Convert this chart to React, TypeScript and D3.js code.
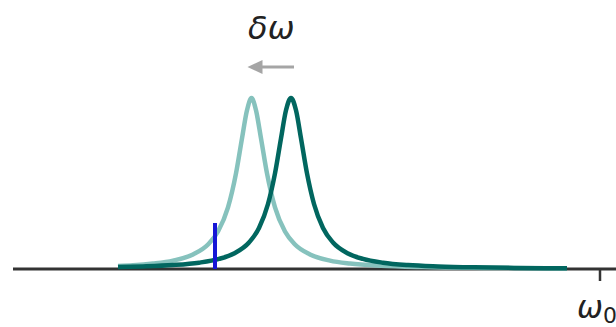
import * as d3 from 'd3';
import React from 'react';

// detuning axis in arbitrary units, omega0 marked by the tick
const omega0 = 58.7;
const markerX = 20.2;
const xDomain = [0, 60.3];

// shifted (light) resonance
const shiftedX = [10.5, 12, 14, 16, 18, 19.5, 20.5, 21.5, 22.3, 22.9, 23.4, 23.85, 24.3, 24.8, 25.4, 26.2, 27.2, 28.2, 29.7, 31.7, 33.7, 36.8, 41, 47, 55.4];
const shiftedY = [0.018, 0.022, 0.032, 0.049, 0.085, 0.143, 0.219, 0.36, 0.559, 0.764, 0.928, 1, 0.928, 0.764, 0.559, 0.36, 0.219, 0.143, 0.085, 0.049, 0.032, 0.019, 0.011, 0.006, 0.0033];

// original (dark) resonance
const baseX = [10.5, 13, 16, 18.6, 20.6, 22.1, 23.6, 24.6, 25.5, 26.2, 26.8, 27.3, 27.8, 28.3, 28.8, 29.4, 30.1, 31, 32, 33.5, 35, 37, 39.5, 42.5, 46.1, 50.1, 55.4];
const baseY = [0.011, 0.015, 0.023, 0.037, 0.059, 0.091, 0.155, 0.24, 0.38, 0.559, 0.764, 0.928, 1, 0.928, 0.764, 0.559, 0.38, 0.24, 0.155, 0.091, 0.059, 0.037, 0.023, 0.015, 0.0096, 0.0065, 0.0042];

const W = 616;
const H = 327;

const App = () => {
  const x = d3.scaleLinear().domain(xDomain).range([13, 616]);
  const y = d3.scaleLinear().domain([0, 1]).range([269, 98]);

  const makePath = (xs: number[], ys: number[]) =>
    d3
      .line<[number, number]>()
      .x((d) => x(d[0]))
      .y((d) => y(d[1]))
      .curve(d3.curveMonotoneX)(xs.map((v, i) => [v, ys[i]] as [number, number])) || '';

  const peakShift = shiftedX[shiftedY.indexOf(1)];
  const peakBase = baseX[baseY.indexOf(1)];
  const arrowY = 67;
  const ax1 = x(peakBase) + 3;
  const ax2 = x(peakShift) - 4;

  return (
    <svg width={W} height={H} style={{ position: 'absolute', left: 0, top: 0, background: '#fff' }}>
      <line x1={x(xDomain[0])} x2={W} y1={y(0)} y2={y(0)} stroke="#333" strokeWidth={3} />
      <line x1={x(omega0)} x2={x(omega0)} y1={y(0)} y2={y(0) + 12} stroke="#333" strokeWidth={2.5} />
      <path d={makePath(shiftedX, shiftedY)} fill="none" stroke="#86c2bd" strokeWidth={4.5} strokeLinejoin="round" />
      <path d={makePath(baseX, baseY)} fill="none" stroke="#01665f" strokeWidth={4.5} strokeLinejoin="round" />
      <line x1={x(markerX)} x2={x(markerX)} y1={223} y2={y(0)} stroke="#1616d6" strokeWidth={4} />
      <text
        x={(x(peakShift) + x(peakBase)) / 2}
        y={39}
        textAnchor="middle"
        fontFamily="DejaVu Sans"
        fontStyle="italic"
        fontSize={32}
        fill="#222"
      >
        δω
      </text>
      <line x1={ax1} x2={ax2 + 12} y1={arrowY} y2={arrowY} stroke="#a5a5a5" strokeWidth={3} />
      <path d={`M${ax2},${arrowY} L${ax2 + 15},${arrowY - 7} L${ax2 + 15},${arrowY + 7} Z`} fill="#a5a5a5" />
      <text x={x(omega0) - 23} y={318} fontFamily="DejaVu Sans" fontStyle="italic" fontSize={31} fill="#222">
        ω<tspan fontSize={22} dy={5} fontStyle="normal">0</tspan>
      </text>
    </svg>
  );
};

export default App;
